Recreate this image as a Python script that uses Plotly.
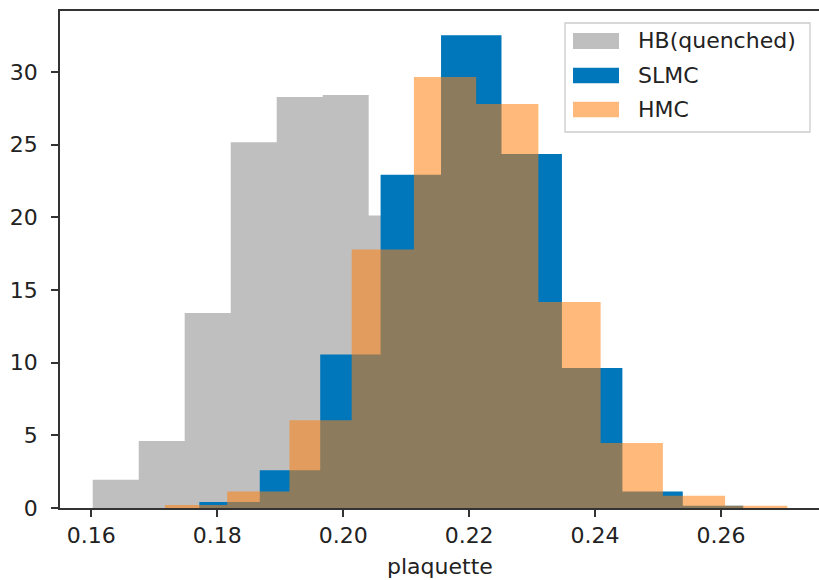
import plotly.graph_objects as go

# Histogram bin edges (plaquette) and normalised densities for each sampler
hb_edges = [0.16022, 0.16753, 0.17483, 0.18214, 0.18944, 0.19675,
            0.20405, 0.21136, 0.21866, 0.22597, 0.23327]
hb_density = [1.95, 4.61, 13.42, 25.16, 28.29, 28.42, 20.12, 10.2, 3.9, 0.8]

slmc_edges = [0.17715, 0.18675, 0.19635, 0.20594, 0.21554, 0.22514,
              0.23474, 0.24434, 0.25393, 0.26353]
slmc_density = [0.41, 2.59, 10.57, 22.94, 32.53, 24.36, 9.64, 1.14, 0.15]

hmc_edges = [0.17170, 0.18158, 0.19147, 0.20135, 0.21123, 0.22112,
             0.23100, 0.24088, 0.25077, 0.26065, 0.27053]
hmc_density = [0.20, 1.14, 6.03, 17.78, 29.66, 27.80, 14.18, 4.47, 0.85, 0.15]

labels = ["HB(quenched)", "SLMC", "HMC"]
x_ticks = [0.16, 0.18, 0.20, 0.22, 0.24, 0.26]
y_ticks = [0, 5, 10, 15, 20, 25, 30]

GRAY = "#bfbfbf"
BLUE = "rgb(0,119,187)"
ORANGE = "rgba(255,127,14,0.55)"
FONT = "DejaVu Sans"
FS = 22
TEXT = "#222222"


def hist_step(edges, dens, color, name):
    # one filled step outline per histogram, so neighbouring bins share no seams
    n = len(dens)
    xs = list(edges[:n + 1])
    ys = list(dens) + [dens[-1]]
    return go.Scatter(x=xs, y=ys, mode="lines", line=dict(shape="hv", width=0,
                      color=color), fill="tozeroy", fillcolor=color,
                      name=name, showlegend=False, hoverinfo="skip")


fig = go.Figure()
fig.add_trace(hist_step(hb_edges, hb_density, GRAY, labels[0]))
fig.add_trace(hist_step(slmc_edges, slmc_density, BLUE, labels[1]))
fig.add_trace(hist_step(hmc_edges, hmc_density, ORANGE, labels[2]))

W, H = 819, 580
ML, MT, MB, MR = 60, 11, 72, 0
PW, PH = W - ML - MR, H - MT - MB


def px(x):
    return (x - ML) / PW


def py(y):
    return (H - MB - y) / PH


# legend box drawn by hand so the patches are wide rectangles
shapes = [dict(type="rect", xref="paper", yref="paper",
               x0=px(565), x1=px(810), y0=py(132), y1=py(23),
               line=dict(color="#cccccc", width=1.3),
               fillcolor="rgba(255,255,255,0.8)", layer="above")]
annotations = []
rows = [(33, 49), (67.7, 83.3), (101.7, 117.3)]
for (top, bot), col, lab in zip(rows, [GRAY, BLUE, ORANGE], labels):
    shapes.append(dict(type="rect", xref="paper", yref="paper",
                       x0=px(573), x1=px(619), y0=py(bot), y1=py(top),
                       line=dict(width=0), fillcolor=col, layer="above"))
    annotations.append(dict(xref="paper", yref="paper", x=px(636),
                            y=py((top + bot) / 2), xanchor="left",
                            yanchor="middle", text=lab, showarrow=False,
                            font=dict(family=FONT, size=FS, color=TEXT)))

annotations.append(dict(xref="paper", yref="paper", x=px(440), y=py(566),
                        xanchor="center", yanchor="middle", text="plaquette",
                        showarrow=False,
                        font=dict(family=FONT, size=FS, color=TEXT)))

fig.update_layout(
    width=W, height=H,
    margin=dict(l=ML, r=MR, t=MT, b=MB, pad=0),
    paper_bgcolor="white", plot_bgcolor="white",
    font=dict(family=FONT, size=FS, color=TEXT),
    shapes=shapes, annotations=annotations,
    xaxis=dict(range=[0.155029, 0.275563], tickvals=x_ticks,
               ticktext=[f"{v:.2f}" for v in x_ticks],
               showgrid=False, zeroline=False,
               showline=True, mirror=True, linecolor="#333333", linewidth=1.6,
               ticks="outside", ticklen=7, tickwidth=1.6, tickcolor="#333333",
               tickfont=dict(family=FONT, size=FS, color=TEXT)),
    yaxis=dict(range=[0, 34.2], tickvals=y_ticks,
               showgrid=False, zeroline=False,
               showline=True, linecolor="#333333", linewidth=1.6,
               ticks="outside", ticklen=7, tickwidth=1.6, tickcolor="#333333",
               ticklabelstandoff=9,
               tickfont=dict(family=FONT, size=FS, color=TEXT)),
)

fig.write_html("out.html")
